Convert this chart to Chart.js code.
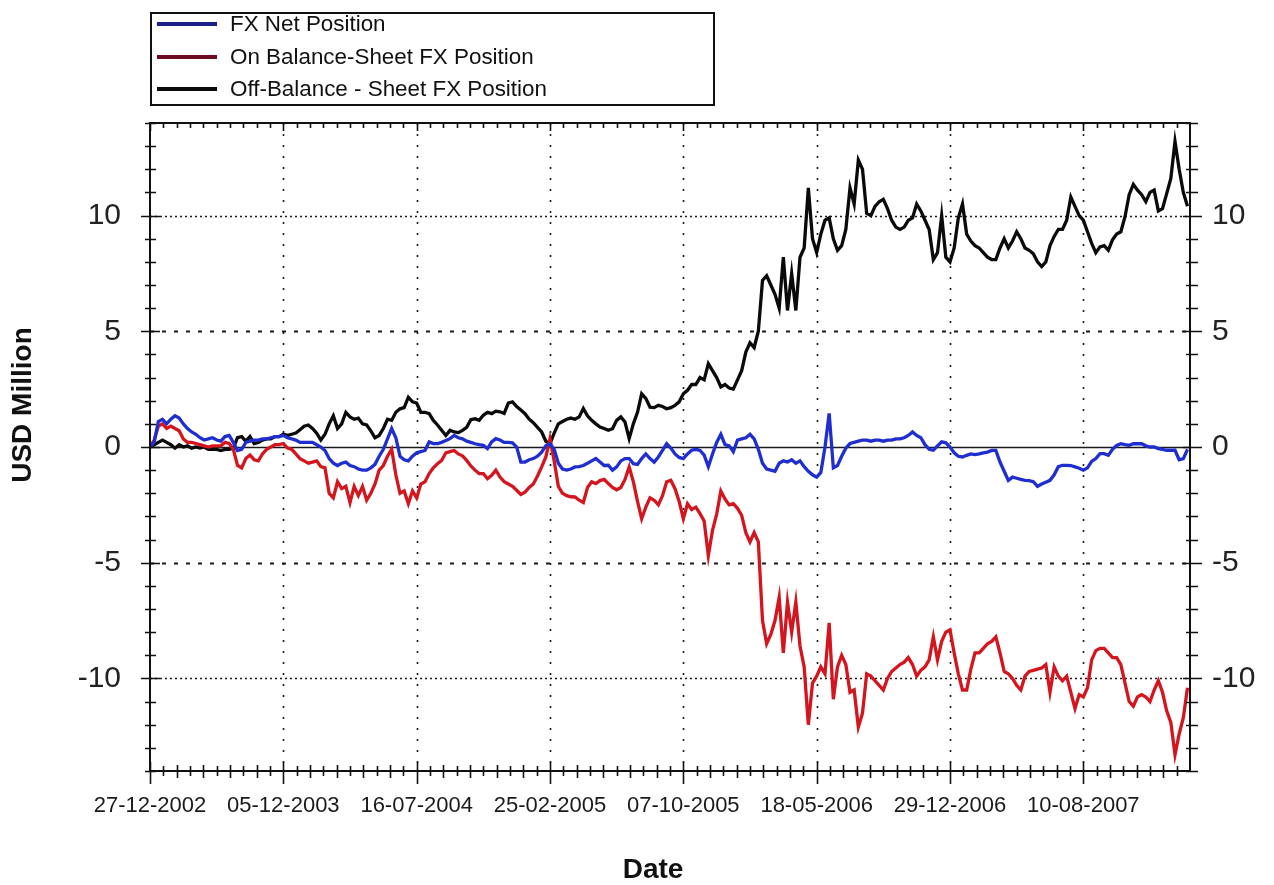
<!DOCTYPE html>
<html>
<head>
<meta charset="utf-8">
<title>FX Positions</title>
<script src="https://cdn.jsdelivr.net/npm/chart.js@4.4.1/dist/chart.umd.min.js"></script>
<style>
  html, body { margin: 0; padding: 0; background: #ffffff; }
  #wrap { position: relative; width: 1274px; height: 885px; overflow: hidden; }
  #chart { position: absolute; left: 0; top: 0; }
  #legend {
    position: absolute; left: 150px; top: 12px; width: 565px; height: 94px;
    box-sizing: border-box; border: 2px solid #111; background: #fff;
    font-family: "Liberation Sans", Arial, sans-serif; font-size: 22.4px; color: #111;
  }
  .row { position: absolute; left: 0; height: 24px; line-height: 24px; white-space: nowrap; }
  .sw { position: absolute; left: 5px; top: 10px; width: 60px; height: 4px; }
  .tx { position: absolute; left: 78px; top: 0; }
</style>
</head>
<body>
<div id="wrap">
  <canvas id="chart" width="1274" height="885"></canvas>
  <div id="legend"></div>
</div>
<script>
// Date labels on the time axis, one every 32 weekly observations
const tickLabels = ['27-12-2002', '05-12-2003', '16-07-2004', '25-02-2005',
                    '07-10-2005', '18-05-2006', '29-12-2006', '10-08-2007'];
const weeksPerLabel = 32;
const yTickValues = [-10, -5, 0, 5, 10];

// Weekly positions, USD million
const fxNet = [
  0.0, 0.2, 1.1, 1.2, 1.0, 1.2, 1.35, 1.25, 1.0, 0.8,
  0.65, 0.55, 0.4, 0.3, 0.35, 0.4, 0.3, 0.25, 0.45, 0.5,
  0.2, -0.15, -0.1, 0.2, 0.25, 0.3, 0.3, 0.35, 0.35, 0.4,
  0.45, 0.45, 0.5, 0.4, 0.35, 0.3, 0.2, 0.2, 0.2, 0.2,
  0.1, 0.0, -0.15, -0.5, -0.7, -0.8, -0.7, -0.65, -0.8, -0.85,
  -0.95, -1.0, -1.0, -0.9, -0.75, -0.4, -0.1, 0.35, 0.8, 0.4,
  -0.4, -0.55, -0.6, -0.4, -0.25, -0.2, -0.15, 0.22, 0.15, 0.15,
  0.2, 0.28, 0.36, 0.5, 0.4, 0.35, 0.25, 0.2, 0.14, 0.1,
  0.07, -0.07, 0.22, 0.36, 0.3, 0.2, 0.2, 0.18, 0.0, -0.65,
  -0.65, -0.55, -0.5, -0.4, -0.22, 0.05, 0.14, -0.1, -0.7, -0.95,
  -1.0, -0.95, -0.86, -0.85, -0.8, -0.7, -0.6, -0.5, -0.65, -0.8,
  -0.79, -1.0, -0.86, -0.6, -0.5, -0.5, -0.72, -0.75, -0.5, -0.3,
  -0.5, -0.65, -0.43, -0.15, 0.14, -0.05, -0.3, -0.45, -0.5, -0.3,
  -0.14, -0.1, -0.15, -0.35, -0.85, -0.3, 0.2, 0.55, 0.1, 0.05,
  -0.2, 0.3, 0.35, 0.4, 0.55, 0.35, -0.1, -0.7, -0.95, -1.0,
  -1.05, -0.7, -0.6, -0.65, -0.55, -0.7, -0.6, -0.85, -1.05, -1.2,
  -1.3, -1.1, 0.0, 1.45, -0.9, -0.8, -0.4, -0.05, 0.15, 0.2,
  0.25, 0.3, 0.3, 0.25, 0.3, 0.3, 0.25, 0.3, 0.3, 0.35,
  0.35, 0.4, 0.5, 0.65, 0.5, 0.4, 0.1, -0.1, -0.14, 0.05,
  0.22, 0.18, 0.0, -0.25, -0.4, -0.43, -0.36, -0.3, -0.33, -0.3,
  -0.25, -0.22, -0.15, -0.15, -0.65, -1.05, -1.44, -1.3, -1.35, -1.4,
  -1.44, -1.45, -1.5, -1.7, -1.6, -1.52, -1.44, -1.2, -0.85, -0.79,
  -0.79, -0.8, -0.86, -0.92, -1.0, -0.9, -0.62, -0.5, -0.29, -0.29,
  -0.36, -0.1, 0.07, 0.14, 0.1, 0.07, 0.14, 0.14, 0.14, 0.05,
  0.0, 0.0, -0.07, -0.1, -0.14, -0.14, -0.14, -0.55, -0.5, -0.1
];

const onBalance = [
  0.0, 0.3, 0.9, 1.0, 0.8, 0.9, 0.8, 0.7, 0.35, 0.2,
  0.2, 0.15, 0.1, 0.05, 0.0, 0.05, 0.05, 0.05, 0.2, 0.15,
  -0.1, -0.8, -0.9, -0.5, -0.35, -0.55, -0.6, -0.3, -0.1, 0.0,
  0.1, 0.1, 0.15, -0.05, -0.1, -0.3, -0.5, -0.6, -0.7, -0.65,
  -0.6, -0.85, -0.9, -2.0, -2.2, -1.5, -1.8, -1.7, -2.4, -1.7,
  -2.1, -1.7, -2.3, -2.0, -1.6, -1.0, -0.8, -0.4, -0.1, -1.2,
  -2.0, -1.9, -2.45, -1.9, -2.2, -1.6, -1.5, -1.15, -0.9, -0.72,
  -0.58, -0.25, -0.2, -0.15, -0.3, -0.38, -0.58, -0.82, -1.0, -1.15,
  -1.15, -1.37, -1.22, -1.0, -1.3, -1.5, -1.6, -1.7, -1.87, -2.05,
  -1.95, -1.75, -1.6, -1.25, -0.86, -0.43, 0.36, -0.6, -1.7, -2.0,
  -2.1, -2.15, -2.16, -2.3, -2.4, -1.75, -1.5, -1.58, -1.45, -1.4,
  -1.58, -1.75, -1.85, -1.75, -1.4, -0.86, -1.5, -2.35, -3.1, -2.6,
  -2.2, -2.3, -2.5, -2.1, -1.5, -1.44, -1.8, -2.35, -3.1, -2.45,
  -2.7, -2.6, -2.88, -3.2, -4.7, -3.6, -2.9, -1.9, -2.25, -2.5,
  -2.45, -2.65, -2.95, -3.7, -4.1, -3.7, -4.1, -7.5, -8.5, -8.1,
  -7.5, -6.5, -8.9, -6.7, -8.0, -6.7, -8.6, -9.5, -12.0, -10.2,
  -9.9, -9.5, -9.8, -7.6, -10.9, -9.5, -9.0, -9.4, -10.6, -10.5,
  -12.1, -11.5, -9.8, -9.9, -10.1, -10.3, -10.5, -10.0, -9.7, -9.55,
  -9.4, -9.3, -9.1, -9.4, -9.9, -9.65, -9.5, -9.2, -8.2, -9.2,
  -8.4, -8.0, -7.9, -8.9, -9.8, -10.5, -10.5, -9.6, -8.9, -8.9,
  -8.7, -8.5, -8.4, -8.2, -8.9, -9.7, -9.8, -10.0, -10.3, -10.5,
  -9.9, -9.7, -9.65, -9.6, -9.55, -9.4, -10.6, -9.5, -9.9, -10.1,
  -9.9, -10.6, -11.3, -10.7, -10.8, -10.4, -9.2, -8.8, -8.7, -8.7,
  -8.9, -9.1, -9.1, -9.4, -10.2, -11.0, -11.2, -10.8, -10.7, -10.8,
  -11.0, -10.5, -10.1, -10.6, -11.4, -11.9, -13.3, -12.4, -11.7, -10.4
];

const offBalance = [
  0.0, 0.1, 0.2, 0.3, 0.2, 0.1, -0.05, 0.1, 0.0, 0.05,
  -0.05, 0.0, -0.05, 0.0, -0.1, -0.1, -0.1, -0.15, -0.1, -0.1,
  -0.05, 0.4, 0.45, 0.25, 0.45, 0.15, 0.2, 0.3, 0.35, 0.35,
  0.45, 0.45, 0.55, 0.5, 0.55, 0.6, 0.75, 0.9, 0.95, 0.8,
  0.6, 0.3, 0.55, 1.0, 1.35, 0.8, 1.0, 1.5, 1.3, 1.2,
  1.25, 1.0, 0.95, 0.7, 0.4, 0.5, 0.8, 1.2, 1.15, 1.5,
  1.65, 1.7, 2.15, 1.95, 1.9, 1.5, 1.5, 1.44, 1.15, 0.95,
  0.72, 0.5, 0.72, 0.65, 0.62, 0.72, 0.85, 1.18, 1.22, 1.15,
  1.37, 1.5, 1.44, 1.55, 1.52, 1.45, 1.9, 1.95, 1.75, 1.6,
  1.44, 1.2, 1.05, 0.85, 0.65, 0.25, 0.15, 0.6, 1.0, 1.1,
  1.2, 1.25, 1.2, 1.3, 1.66, 1.35, 1.15, 1.0, 0.86, 0.8,
  0.72, 0.79, 1.15, 1.3, 1.08, 0.36, 1.0, 1.5, 2.3, 2.1,
  1.72, 1.7, 1.8, 1.75, 1.65, 1.7, 1.8, 1.95, 2.3, 2.45,
  2.7, 2.7, 3.0, 2.9, 3.6, 3.3, 3.0, 2.6, 2.7, 2.55,
  2.5, 2.9, 3.3, 4.1, 4.5, 4.3, 5.0, 7.2, 7.4, 7.0,
  6.6, 6.0, 8.2, 5.9, 7.5, 5.9, 8.2, 8.6, 11.2, 9.0,
  8.4, 9.2, 9.8, 9.9, 9.0, 8.5, 8.7, 9.4, 11.2, 10.5,
  12.4, 12.0, 10.1, 10.0, 10.4, 10.6, 10.7, 10.3, 9.8, 9.5,
  9.4, 9.5, 9.8, 9.9, 10.5, 10.2, 9.8, 9.4, 8.1, 8.4,
  10.0, 8.2, 8.0, 8.6, 9.9, 10.5, 9.2, 8.9, 8.7, 8.6,
  8.4, 8.2, 8.1, 8.1, 8.6, 9.0, 8.6, 8.9, 9.3, 9.0,
  8.6, 8.5, 8.35, 8.0, 7.8, 8.0, 8.7, 9.1, 9.4, 9.4,
  9.8, 10.8, 10.4, 10.0, 9.8, 9.3, 8.8, 8.4, 8.65, 8.7,
  8.5, 8.95, 9.2, 9.3, 9.95, 10.9, 11.35, 11.1, 10.9, 10.6,
  11.0, 11.1, 10.2, 10.3, 10.95, 11.6, 13.2, 12.0, 11.0, 10.4
];

const seriesNames = ['FX Net Position', 'On Balance-Sheet FX Position', 'Off-Balance - Sheet FX Position'];
const seriesColors = ['#1f2ed0', '#d4151d', '#0a0a0a'];
const legendColors = ['#1c1f86', '#6e0a22', '#0a0a0a'];

const toPoints = arr => arr.map((v, i) => ({ x: i, y: v }));
const FONT = '"Liberation Sans", Arial, sans-serif';

// Dotted grid, plot frame, minor tick marks and axis titles
const framePlugin = {
  id: 'frameAndTicks',
  beforeDatasetsDraw(chart) {
    const { ctx, chartArea: a, scales: { x, y } } = chart;
    ctx.save();
    ctx.strokeStyle = '#1a1a1a';
    ctx.lineWidth = 1.6;
    ctx.setLineDash([2, 9]);
    for (let k = 1; k < tickLabels.length; k++) {
      const px = Math.round(x.getPixelForValue(k * weeksPerLabel)) + 0.5;
      ctx.beginPath(); ctx.moveTo(px, a.top); ctx.lineTo(px, a.bottom); ctx.stroke();
    }
    yTickValues.forEach(v => {
      const py = Math.round(y.getPixelForValue(v)) + 0.5;
      if (v === 0) { ctx.setLineDash([]); ctx.lineWidth = 1.6; }
      else if (Math.abs(v) === 5) { ctx.setLineDash([4, 8]); ctx.lineWidth = 1.8; }
      else { ctx.setLineDash([2, 3]); ctx.lineWidth = 1.6; }
      ctx.beginPath(); ctx.moveTo(a.left, py); ctx.lineTo(a.right, py); ctx.stroke();
    });
    ctx.restore();
  },
  afterDatasetsDraw(chart) {
    const { ctx, chartArea: a, scales: { x, y } } = chart;
    ctx.save();
    ctx.strokeStyle = '#111';
    ctx.lineWidth = 2;
    ctx.strokeRect(a.left, a.top, a.right - a.left, a.bottom - a.top);
    ctx.lineWidth = 1.6;
    ctx.beginPath();
    // vertical axis ticks every unit, long ones every 5
    for (let v = -14; v <= 14; v++) {
      const py = Math.round(y.getPixelForValue(v)) + 0.5;
      const major = v % 5 === 0;
      ctx.moveTo(a.left - (major ? 9 : 5), py); ctx.lineTo(a.left + (major ? 10 : 6), py);
      ctx.moveTo(a.right - (major ? 7 : 4), py); ctx.lineTo(a.right + (major ? 12 : 8), py);
    }
    // time axis ticks: ten steps between dated labels
    const step = weeksPerLabel / 10;
    for (let i = 0; i * step <= x.max; i++) {
      const px = Math.round(x.getPixelForValue(i * step)) + 0.5;
      const major = i % 10 === 0;
      const mid = i % 2 === 0;
      ctx.moveTo(px, a.bottom - (major ? 9 : mid ? 6 : 5)); ctx.lineTo(px, a.bottom + (major ? 13 : mid ? 7 : 5));
      ctx.moveTo(px, a.top); ctx.lineTo(px, a.top + (major ? 8 : 5));
    }
    ctx.stroke();
    ctx.restore();
  },
  afterDraw(chart) {
    const { ctx } = chart;
    ctx.save();
    ctx.fillStyle = '#111';
    ctx.font = 'bold 28px ' + FONT;
    ctx.textAlign = 'center';
    ctx.textBaseline = 'middle';
    ctx.fillText('Date', 653, 870);
    ctx.translate(23, 405);
    ctx.rotate(-Math.PI / 2);
    ctx.fillText('USD Million', 0, 0);
    ctx.restore();
  }
};

const yTicks = (padding) => ({
  color: '#222',
  font: { family: FONT, size: 30 },
  padding,
  autoSkip: false,
  callback: v => String(v)
});

const chart = new Chart(document.getElementById('chart'), {
  type: 'line',
  data: {
    datasets: [fxNet, onBalance, offBalance].map((arr, i) => ({
      label: seriesNames[i],
      data: toPoints(arr),
      borderColor: seriesColors[i],
      backgroundColor: seriesColors[i],
      borderWidth: 3.3,
      pointRadius: 0,
      tension: 0,
      fill: false,
      yAxisID: 'y'
    }))
  },
  options: {
    responsive: false,
    animation: false,
    layout: { padding: { top: 123, left: 0, right: 0, bottom: 0 } },
    plugins: { legend: { display: false }, tooltip: { enabled: false } },
    scales: {
      x: {
        type: 'linear',
        min: 0,
        max: 249.6,
        afterBuildTicks: s => { s.ticks = tickLabels.map((_, k) => ({ value: k * weeksPerLabel })); },
        afterFit: s => { s.height = 114; },
        grid: { display: false },
        border: { display: false },
        ticks: {
          color: '#1a1a1a',
          font: { family: FONT, size: 22 },
          padding: 14,
          maxRotation: 0,
          autoSkip: false,
          callback: v => tickLabels[Math.round(v / weeksPerLabel)]
        }
      },
      y: {
        type: 'linear',
        position: 'left',
        min: -14,
        max: 14,
        afterBuildTicks: s => { s.ticks = yTickValues.map(v => ({ value: v })); },
        afterFit: s => { s.width = 150; },
        grid: { display: false },
        border: { display: false },
        ticks: yTicks(21)
      },
      y2: {
        type: 'linear',
        position: 'right',
        min: -14,
        max: 14,
        afterBuildTicks: s => { s.ticks = yTickValues.map(v => ({ value: v })); },
        afterFit: s => { s.width = 84; },
        grid: { display: false },
        border: { display: false },
        ticks: yTicks(14)
      }
    }
  },
  plugins: [framePlugin]
});

// Legend box built from the chart's datasets
const legend = document.getElementById('legend');
chart.data.datasets.forEach((ds, i) => {
  const row = document.createElement('div');
  row.className = 'row';
  row.style.top = (-2 + 32.5 * i) + 'px';
  const sw = document.createElement('span');
  sw.className = 'sw';
  sw.style.background = legendColors[i];
  const tx = document.createElement('span');
  tx.className = 'tx';
  tx.textContent = ds.label;
  row.appendChild(sw);
  row.appendChild(tx);
  legend.appendChild(row);
});
</script>
</body>
</html>
